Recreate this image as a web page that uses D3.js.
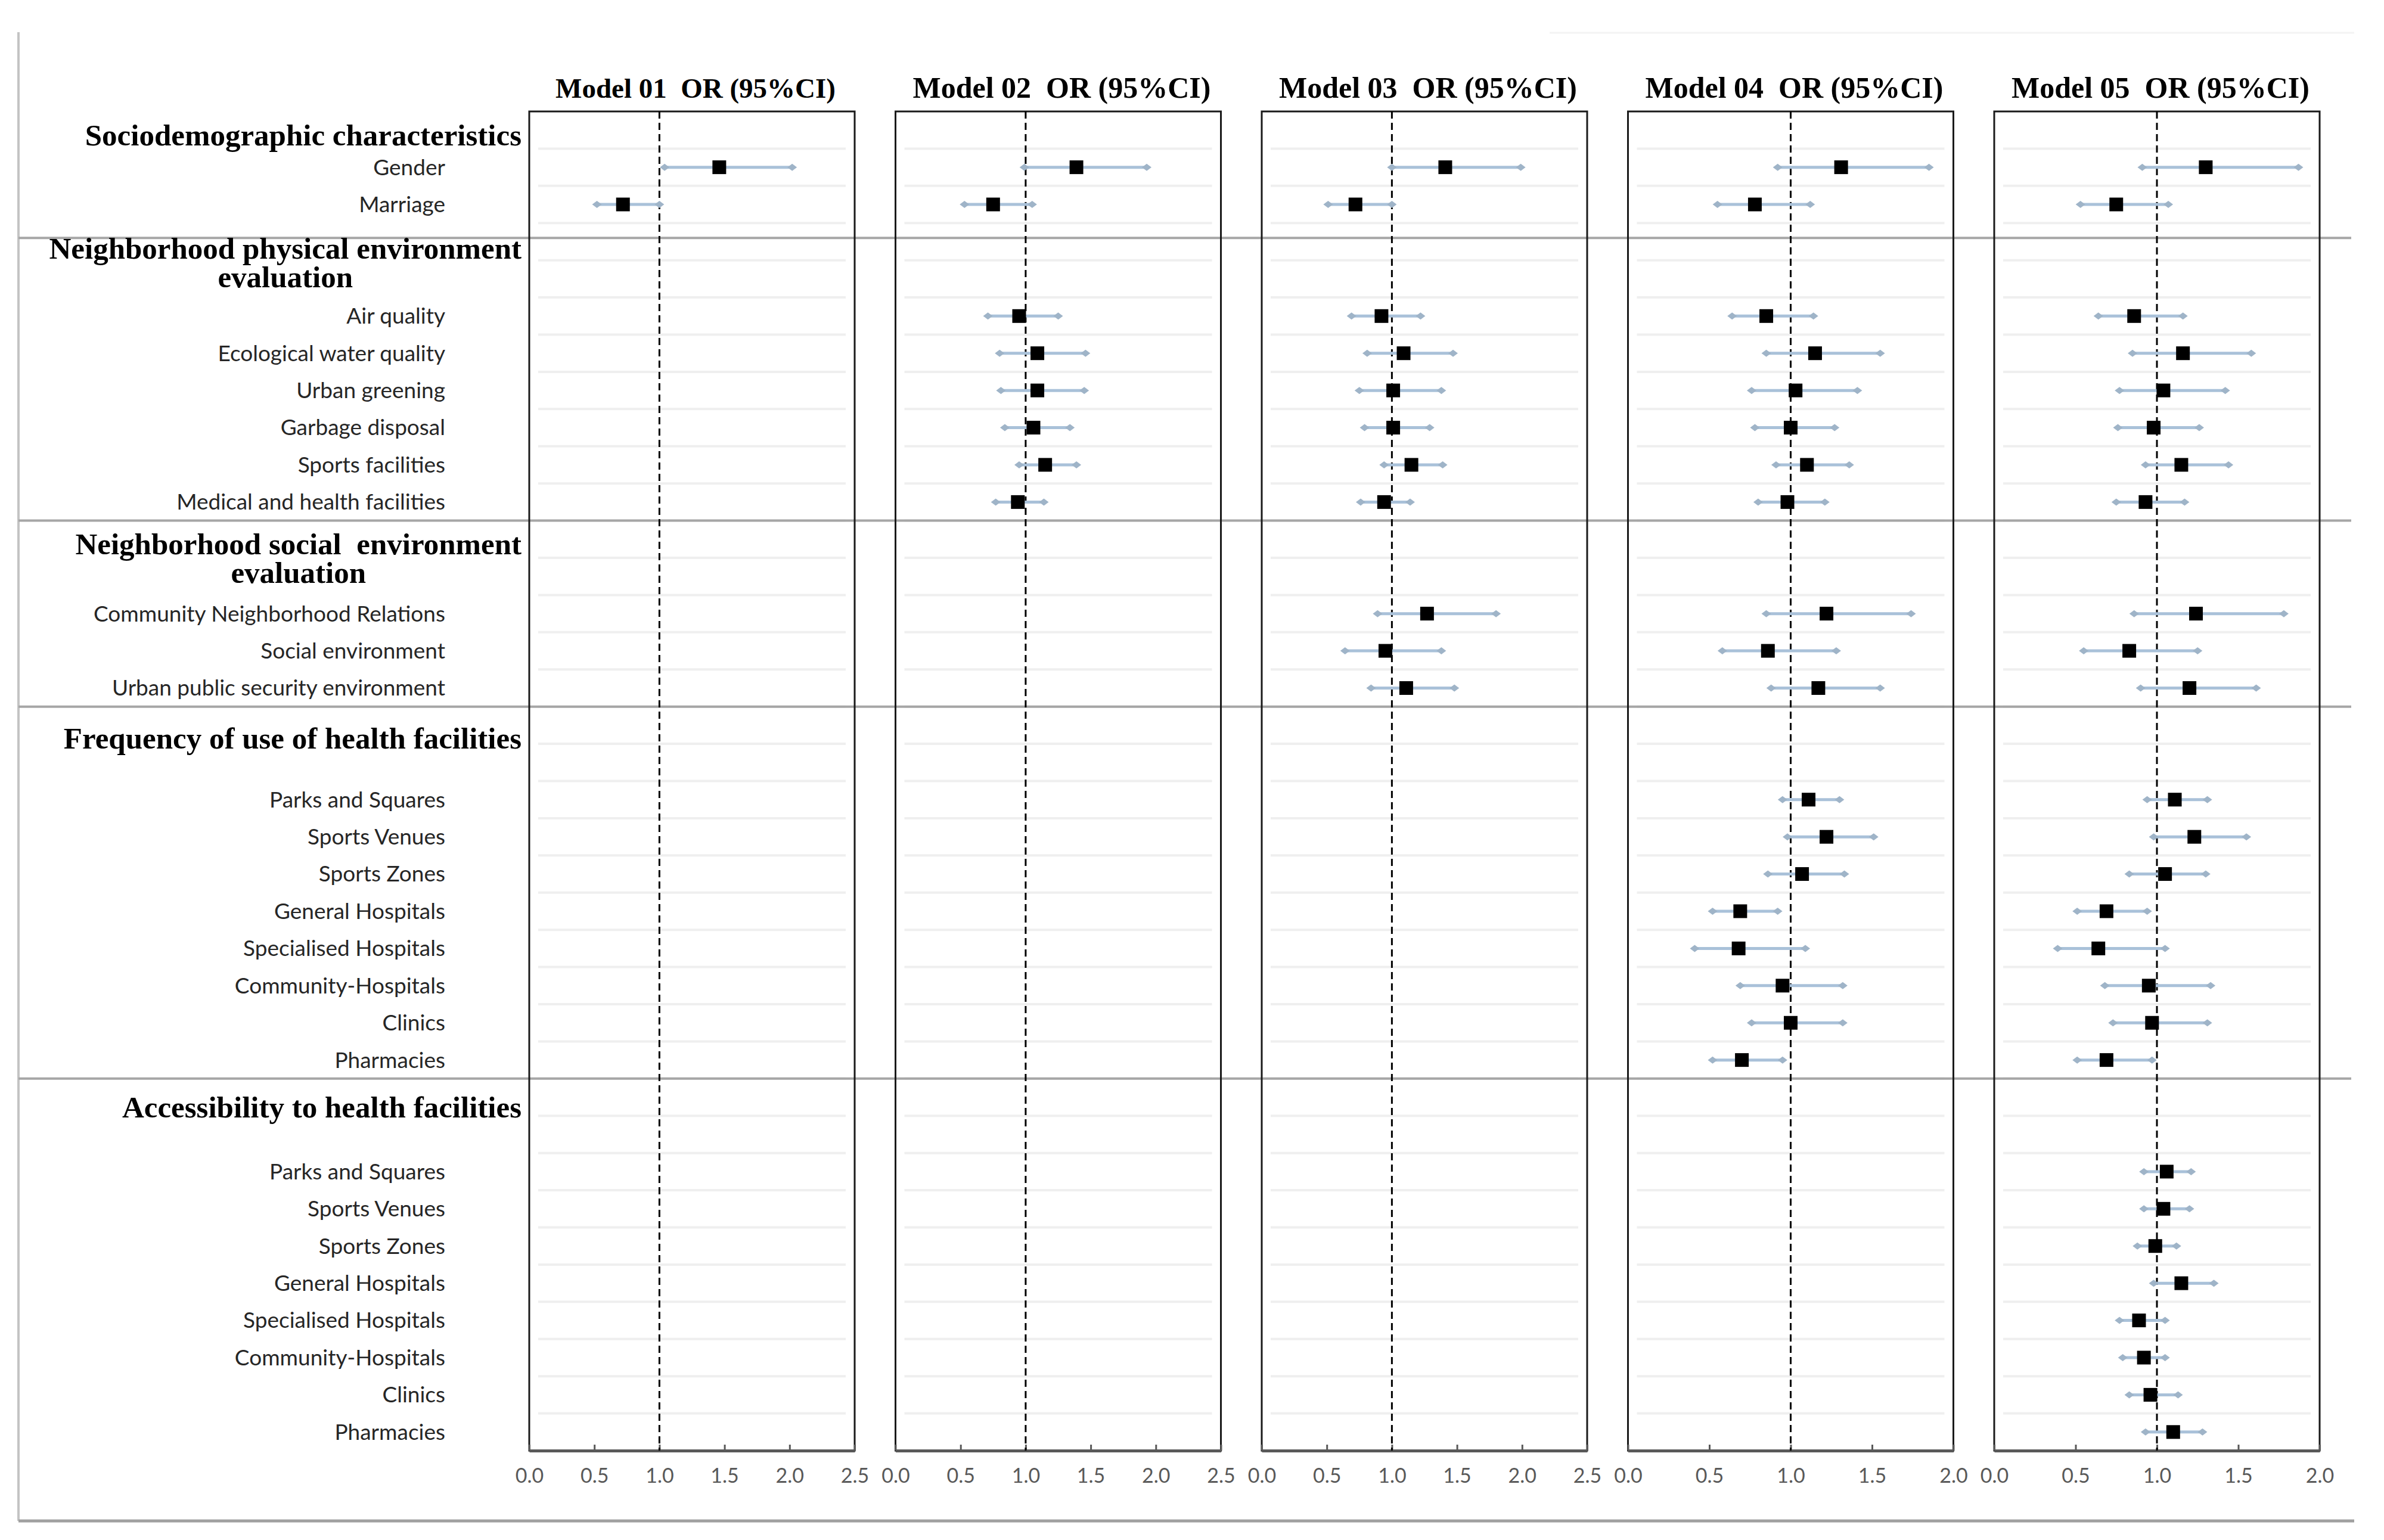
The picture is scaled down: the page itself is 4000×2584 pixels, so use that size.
<!DOCTYPE html>
<html lang="en">
<head>
<meta charset="utf-8">
<title>Odds ratios by model</title>
<script src="https://cdn.jsdelivr.net/npm/d3@7/dist/d3.min.js"></script>
<style>
  body { margin: 0; background: #fff; }
  .lab { font-family: Lato, "Open Sans", sans-serif; fill: #262626; }
  .sec { font-family: "Liberation Serif", "Times New Roman", serif; font-weight: bold; fill: #000; }
  .axis text { font-family: Lato, "Open Sans", sans-serif; fill: #595959; }
</style>
</head>
<body>
<script>
// ---- data ----
var sectionTitles = [
  ["Sociodemographic characteristics"],
  ["Neighborhood physical environment", "evaluation"],
  ["Neighborhood social  environment", "evaluation"],
  ["Frequency of use of health facilities"],
  ["Accessibility to health facilities"]
];
var sectionItems = [
  ["Gender", "Marriage"],
  ["Air quality", "Ecological water quality", "Urban greening", "Garbage disposal", "Sports facilities", "Medical and health facilities"],
  ["Community Neighborhood Relations", "Social environment", "Urban public security environment"],
  ["Parks and Squares", "Sports Venues", "Sports Zones", "General Hospitals", "Specialised Hospitals", "Community-Hospitals", "Clinics", "Pharmacies"],
  ["Parks and Squares", "Sports Venues", "Sports Zones", "General Hospitals", "Specialised Hospitals", "Community-Hospitals", "Clinics", "Pharmacies"]
];
var modelNames = ["Model 01", "Model 02", "Model 03", "Model 04", "Model 05"];
var axisMax = [2.5, 2.5, 2.5, 2.0, 2.0];
var tickVals = [0, 0.5, 1, 1.5, 2, 2.5];

// values follow the item order above (each model adds the next block)
var m1OR = [1.46, 0.72];
var m1Lo = [1.04, 0.52];
var m1Hi = [2.02, 1.00];

var m2OR = [1.39, 0.75, 0.95, 1.09, 1.09, 1.06, 1.15, 0.94];
var m2Lo = [0.99, 0.53, 0.71, 0.80, 0.81, 0.84, 0.95, 0.77];
var m2Hi = [1.93, 1.05, 1.25, 1.46, 1.45, 1.34, 1.39, 1.14];

var m3OR = [1.41, 0.72, 0.92, 1.09, 1.01, 1.01, 1.15, 0.94, 1.27, 0.95, 1.11];
var m3Lo = [1.00, 0.51, 0.69, 0.81, 0.75, 0.79, 0.94, 0.76, 0.89, 0.64, 0.84];
var m3Hi = [1.99, 1.00, 1.22, 1.47, 1.38, 1.29, 1.39, 1.14, 1.80, 1.38, 1.48];

var m4OR = [1.31, 0.78, 0.85, 1.15, 1.03, 1.00, 1.10, 0.98, 1.22, 0.86, 1.17, 1.11, 1.22, 1.07, 0.69, 0.68, 0.95, 1.00, 0.70];
var m4Lo = [0.92, 0.55, 0.64, 0.85, 0.76, 0.78, 0.91, 0.80, 0.85, 0.58, 0.88, 0.95, 0.98, 0.86, 0.52, 0.41, 0.69, 0.76, 0.52];
var m4Hi = [1.85, 1.12, 1.14, 1.55, 1.41, 1.27, 1.36, 1.21, 1.74, 1.28, 1.55, 1.30, 1.51, 1.33, 0.92, 1.09, 1.32, 1.32, 0.95];

var m5OR = [1.30, 0.75, 0.86, 1.16, 1.04, 0.98, 1.15, 0.93, 1.24, 0.83, 1.20, 1.11, 1.23, 1.05, 0.69, 0.64, 0.95, 0.97, 0.69, 1.06, 1.04, 0.99, 1.15, 0.89, 0.92, 0.96, 1.10];
var m5Lo = [0.91, 0.53, 0.64, 0.85, 0.77, 0.76, 0.93, 0.75, 0.86, 0.55, 0.90, 0.94, 0.98, 0.83, 0.51, 0.39, 0.68, 0.73, 0.51, 0.92, 0.92, 0.88, 0.98, 0.77, 0.79, 0.83, 0.93];
var m5Hi = [1.87, 1.07, 1.16, 1.58, 1.42, 1.26, 1.44, 1.17, 1.78, 1.25, 1.61, 1.31, 1.55, 1.30, 0.94, 1.05, 1.33, 1.31, 0.97, 1.21, 1.20, 1.12, 1.35, 1.05, 1.05, 1.13, 1.28];

var models = [[m1OR, m1Lo, m1Hi], [m2OR, m2Lo, m2Hi], [m3OR, m3Lo, m3Hi], [m4OR, m4Lo, m4Hi], [m5OR, m5Lo, m5Hi]];

// ---- layout ----
var width = 4000, height = 2584;
var panelTop = 187, panelBottom = 2434;
var panelLeft0 = 888, panelStep = 614.5, panelW = 546;
var labelRight = 747, titleRight = 875;
var titleRows = [1, 2, 2, 2, 2];           // rows used by each section heading
var titleBase = [0.42, 0.45, 0.40, 0.62, 0.54]; // baseline offset of heading, in rows
var sepShift = [0.4, 0, 0, 0];

// build the row index of every heading and item
var rowOfTitle = [], itemRows = [], itemLabels = [];
var r = 0;
sectionItems.forEach(function (items, s) {
  rowOfTitle.push(r);
  r += titleRows[s];
  items.forEach(function (it) { itemRows.push(r); itemLabels.push(it); r++; });
});
var nRows = r;

var yRow = d3.scaleLinear().domain([-0.5, nRows - 0.5]).range([panelTop, panelBottom]);

var svg = d3.select("body").append("svg").attr("width", width).attr("height", height);

// outer frame (left and bottom)
svg.append("line").attr("x1", 31).attr("x2", 31).attr("y1", 54).attr("y2", 2552)
  .attr("stroke", "#c4c4c4").attr("stroke-width", 4);
svg.append("line").attr("x1", 31).attr("x2", 3950).attr("y1", 2552).attr("y2", 2552)
  .attr("stroke", "#a0a0a0").attr("stroke-width", 5);
svg.append("line").attr("x1", 2600).attr("x2", 3950).attr("y1", 55).attr("y2", 55)
  .attr("stroke", "#f3f3f3").attr("stroke-width", 3);

// faint row lines inside panels
var gridG = svg.append("g");
modelNames.forEach(function (m, p) {
  var x0 = panelLeft0 + p * panelStep;
  gridG.selectAll(null).data(d3.range(nRows - 1)).enter().append("line")
    .attr("x1", x0 + 15).attr("x2", x0 + panelW - 15)
    .attr("y1", function (d) { return yRow(d + 0.5); })
    .attr("y2", function (d) { return yRow(d + 0.5); })
    .attr("stroke", "#efefef").attr("stroke-width", 4);
});

// section separators
svg.selectAll(".sep").data(rowOfTitle.slice(1)).enter().append("line")
  .attr("class", "sep")
  .attr("x1", 31).attr("x2", 3945)
  .attr("y1", function (d, i) { return yRow(d - 0.5 + sepShift[i]); })
  .attr("y2", function (d, i) { return yRow(d - 0.5 + sepShift[i]); })
  .attr("stroke", "#a6a6a6").attr("stroke-width", 4);

// section headings
sectionTitles.forEach(function (lines, s) {
  var base = yRow(rowOfTitle[s]) + titleBase[s] * (yRow(1) - yRow(0)) - 31;
  var t1 = svg.append("text").attr("class", "sec")
    .attr("x", titleRight).attr("y", base + 31)
    .attr("text-anchor", "end").style("font-size", "51px").style("white-space", "pre")
    .text(lines[0]);
  if (lines.length > 1) {
    var w = t1.node().getComputedTextLength();
    svg.append("text").attr("class", "sec")
      .attr("x", titleRight - w / 2).attr("y", base + 31 + 48)
      .attr("text-anchor", "middle").style("font-size", "51px")
      .text(lines[1]);
  }
});

// item labels
svg.selectAll(".lab").data(itemLabels).enter().append("text")
  .attr("class", "lab")
  .attr("x", labelRight)
  .attr("y", function (d, i) { return yRow(itemRows[i]); })
  .attr("dy", "0.35em")
  .attr("text-anchor", "end")
  .style("font-size", "37px")
  .text(function (d) { return d; });

// panels
modelNames.forEach(function (name, p) {
  var x0 = panelLeft0 + p * panelStep;
  var x = d3.scaleLinear().domain([0, axisMax[p]]).range([x0, x0 + panelW]);
  var g = svg.append("g");

  g.append("rect").attr("x", x0).attr("y", panelTop)
    .attr("width", panelW).attr("height", panelBottom - panelTop)
    .attr("fill", "none").attr("stroke", "#1a1a1a").attr("stroke-width", 3);

  var ax = d3.axisBottom(x)
    .tickValues(tickVals.filter(function (t) { return t <= axisMax[p]; }))
    .tickSize(-10).tickSizeOuter(0).tickPadding(30)
    .tickFormat(d3.format(".1f"));
  var axG = g.append("g").attr("class", "axis")
    .attr("transform", "translate(0," + panelBottom + ")").call(ax);
  axG.select(".domain").attr("stroke", "#595959").attr("stroke-width", 5);
  axG.selectAll(".tick line").attr("stroke", "#595959").attr("stroke-width", 3);
  axG.selectAll(".tick text").style("font-size", "34px");

  // reference line at OR = 1
  g.append("line").attr("x1", x(1)).attr("x2", x(1))
    .attr("y1", panelTop).attr("y2", panelBottom)
    .attr("stroke", "#000").attr("stroke-width", 3).attr("stroke-dasharray", "12,7");

  // model title
  svg.append("text").attr("class", "sec")
    .attr("x", x0 + panelW / 2 + 6).attr("y", 164)
    .attr("text-anchor", "middle").style("white-space", "pre")
    .style("font-size", p === 0 ? "47px" : "50px")
    .text(name + "  OR (95%CI)");

  var orv = models[p][0], lo = models[p][1], hi = models[p][2];
  var pts = orv.map(function (v, i) { return { or: v, lo: lo[i], hi: hi[i], y: yRow(itemRows[i]) }; });

  g.selectAll(".ci").data(pts).enter().append("line")
    .attr("x1", function (d) { return x(d.lo); })
    .attr("x2", function (d) { return x(d.hi); })
    .attr("y1", function (d) { return d.y; })
    .attr("y2", function (d) { return d.y; })
    .attr("stroke", "#a9c1d9").attr("stroke-width", 5);

  var ends = [];
  pts.forEach(function (d) { ends.push({ v: d.lo, y: d.y }); ends.push({ v: d.hi, y: d.y }); });
  g.selectAll(".end").data(ends).enter().append("path")
    .attr("d", "M-8,0L0,-6L8,0L0,6Z")
    .attr("transform", function (d) { return "translate(" + x(d.v) + "," + d.y + ")"; })
    .attr("fill", "#9fb4c8");

  g.selectAll(".sq").data(pts).enter().append("rect")
    .attr("x", function (d) { return x(d.or) - 11.5; })
    .attr("y", function (d) { return d.y - 11.5; })
    .attr("width", 23).attr("height", 23)
    .attr("fill", "#000");
});
</script>
</body>
</html>
